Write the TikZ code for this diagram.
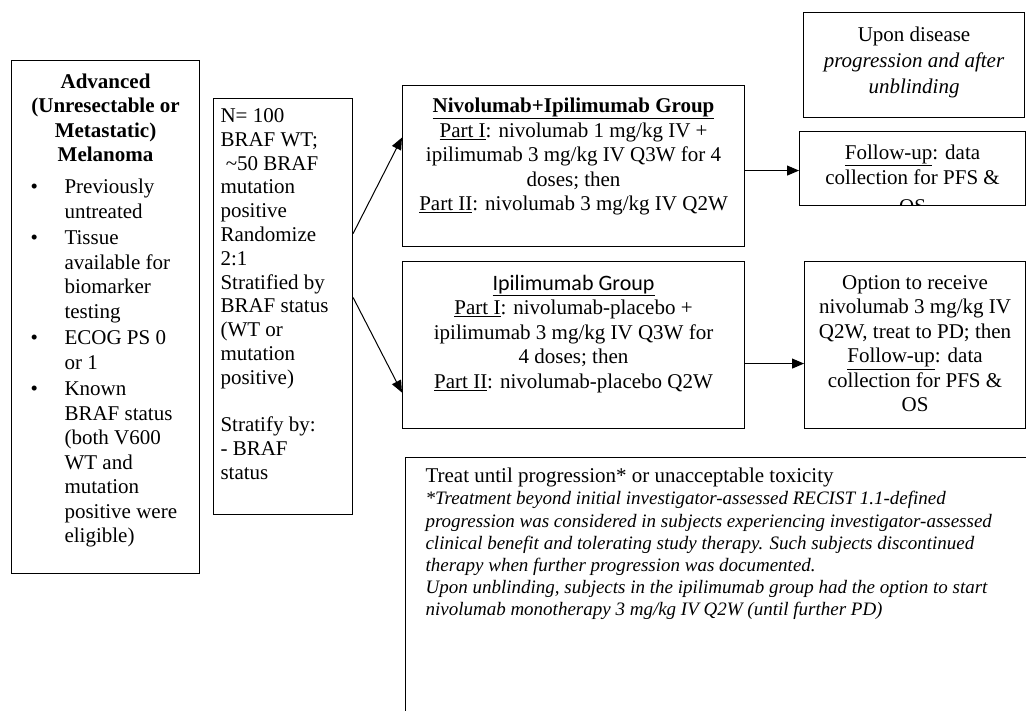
\documentclass[tikz,border=0pt]{standalone}
\usepackage{fontspec}
\setmainfont{Liberation Serif}
\newfontfamily\calibri{Carlito}
\usetikzlibrary{arrows.meta}

% top-aligned text in a box of fixed size: width, height, top gap, text
\newcommand{\boxtext}[4]{\parbox[c][#2][t]{#1}{\vspace*{#3}#4}}
\newcommand{\bul}{\noindent\llap{\textbullet\hspace{26.6pt}}}

\tikzset{
    box/.style={draw, line width=1.1pt, inner sep=0pt, anchor=north west},
    arr/.style={-{Triangle[length=12pt, width=10pt]}, line width=1pt}
}

\begin{document}
\begin{tikzpicture}[x=1pt, y=-1pt, every node/.style={font=\fontsize{21}{24.5}\selectfont}]
    \clip (0,0) rectangle (1026,710);

    \node[box] (pop) at (11,60) {\boxtext{188pt}{513pt}{13pt}{%
        {\centering\bfseries Advanced\\ (Unresectable or\\ Metastatic)\\ Melanoma\par}
        \vspace{5.5pt}
        {\raggedright\leftskip=53pt \parskip=2pt
        \bul Previously\\ untreated\par
        \bul Tissue\\ available for\\ biomarker\\ testing\par
        \bul ECOG PS 0\\ or 1\par
        \bul Known\\ BRAF status\\ (both V600\\ WT and\\ mutation\\ positive were\\ eligible)\par}}};

    \node[box] (rand) at (213,98) {\boxtext{139pt}{416pt}{10pt}{%
        \raggedright\leftskip=7pt \fontsize{21}{23.8}\selectfont
        N= 100\\ BRAF WT;\\ \ \textasciitilde50 BRAF\\ mutation\\ positive\\ Randomize\\ 2:1\\
        Stratified by\\ BRAF status\\ (WT or\\ mutation\\ positive)\\[23.8pt]
        Stratify by:\\ - BRAF\\ status\par}};

    \node[box] (combo) at (402,85) {\boxtext{342pt}{161pt}{12.5pt}{%
        \centering \underline{\textbf{Nivolumab+Ipilimumab Group}}\\
        \underline{Part I}: nivolumab 1 mg/kg IV +\\
        ipilimumab 3 mg/kg IV Q3W for 4\\ doses; then\\
        \underline{Part II}: nivolumab 3 mg/kg IV Q2W\par}};

    \node[box] (ipi) at (402,261) {\boxtext{342pt}{167pt}{13.5pt}{%
        \centering {\calibri\fontsize{22}{24.5}\selectfont\underline{Ipilimumab Group}}\\
        \underline{Part I}: nivolumab-placebo +\\
        ipilimumab 3 mg/kg IV Q3W for\\ 4 doses; then\\
        \underline{Part II}: nivolumab-placebo Q2W\par}};

    \node[box] (upon) at (803,12) {\boxtext{221pt}{105pt}{14.5pt}{%
        \centering \fontsize{21}{26}\selectfont
        Upon disease\\ \textit{progression and after}\\ \textit{unblinding}\par}};

    \begin{scope}
        \clip (798,130) rectangle (1026,205.6);
        \node[box] (fu1) at (799,131) {\boxtext{226pt}{74pt}{13.5pt}{%
            \centering \underline{Follow-up}: data\\ collection for PFS \&\\[5pt] OS\par}};
    \end{scope}

    \node[box] (opt) at (804,261) {\boxtext{221pt}{167pt}{14pt}{%
        \centering Option to receive\\ nivolumab 3 mg/kg IV\\ Q2W, treat to PD; then\\
        \underline{Follow-up}: data\\ collection for PFS \&\\ OS\par}};

    \node[box] (note) at (405,457) {\boxtext{660pt}{300pt}{10.5pt}{%
        \raggedright\leftskip=20pt \fontsize{21}{22.2}\selectfont
        Treat until progression* or unacceptable toxicity\\
        \itshape\fontsize{19}{22.2}\selectfont
        *Treatment beyond initial investigator-assessed RECIST 1.1-defined\\
        progression was considered in subjects experiencing investigator-assessed\\
        clinical benefit and tolerating study therapy. Such subjects discontinued\\
        therapy when further progression was documented.\\
        Upon unblinding, subjects in the ipilimumab group had the option to start\\
        nivolumab monotherapy 3 mg/kg IV Q2W (until further PD)\par}};

    \draw[arr] ([yshift=73pt]rand.east) -- ([yshift=28.5pt]combo.west);
    \draw[arr] ([yshift=9pt]rand.east) -- ([yshift=-47.5pt]ipi.west);
    \draw[arr] ([yshift=-4.5pt]combo.east) -- ([yshift=-2pt]fu1.west);
    \draw[arr] ([yshift=-18.5pt]ipi.east) -- ([yshift=-18.5pt]opt.west);
\end{tikzpicture}
\end{document}
